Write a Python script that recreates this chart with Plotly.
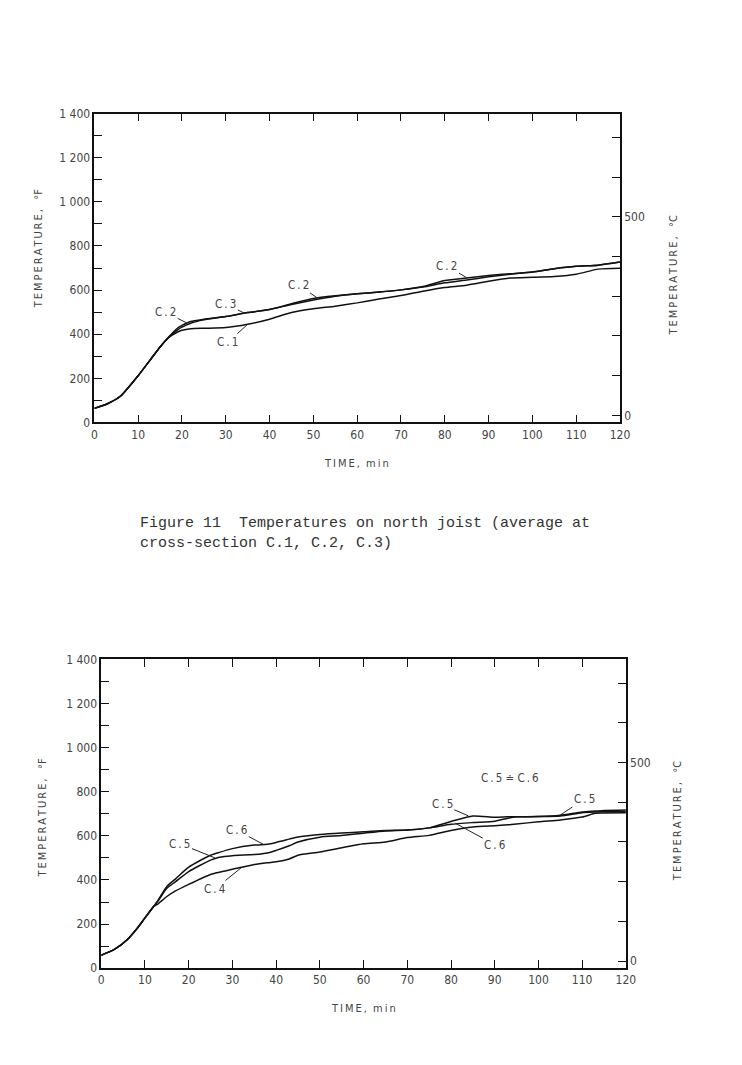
import plotly.graph_objects as go

# ---------------- data ----------------
t_top = [0, 3, 6, 10, 13, 15, 17, 19, 20, 22, 25, 30, 35, 40, 45, 50, 55, 60,
         65, 70, 75, 80, 85, 90, 95, 100, 105, 110, 115, 120]
c1 = [64, 85, 120, 212, 290, 342, 385, 410, 418, 425, 427, 430, 445, 468, 498,
      515, 527, 542, 560, 575, 595, 612, 622, 640, 655, 658, 662, 672, 695, 699]
c2 = [64, 85, 120, 212, 290, 342, 388, 428, 440, 458, 468, 480, 498, 512, 538,
      562, 574, 583, 591, 601, 616, 643, 655, 666, 674, 682, 697, 708, 713, 727]
c3 = [64, 85, 120, 212, 290, 342, 386, 420, 432, 450, 465, 480, 498, 512, 535,
      555, 572, 583, 591, 601, 614, 633, 646, 660, 672, 682, 697, 708, 713, 727]

t_bot = [0, 3, 6, 8, 10, 12, 13, 15, 17, 20, 25, 27, 30, 35, 38, 40, 43, 45,
         50, 55, 60, 65, 70, 75, 80, 85, 90, 93, 95, 100, 105, 110, 113, 115, 120]
c4 = [59, 85, 130, 175, 228, 280, 292, 325, 350, 380, 425, 435, 448, 470, 478,
      482, 495, 512, 527, 546, 564, 572, 592, 602, 624, 640, 646, 650, 653, 664,
      672, 685, 702, 703, 705]
c5 = [59, 85, 130, 175, 228, 280, 305, 362, 392, 438, 490, 503, 510, 515, 522,
      534, 555, 572, 594, 601, 612, 622, 626, 636, 665, 690, 684, 686, 686, 687,
      693, 708, 712, 715, 717]
c6 = [59, 85, 130, 175, 228, 280, 308, 370, 405, 458, 512, 525, 542, 558, 562,
      570, 585, 595, 606, 613, 618, 624, 626, 636, 652, 660, 666, 680, 686, 687,
      690, 705, 708, 709, 710]

x_ticks = [0, 10, 20, 30, 40, 50, 60, 70, 80, 90, 100, 110, 120]
f_ticks = list(range(0, 1401, 100))
f_labels = {0: "0", 200: "200", 400: "400", 600: "600", 800: "800",
            1000: "1 000", 1200: "1 200", 1400: "1 400"}
c_ticks = list(range(0, 701, 100))
c_labels = {0: "0", 500: "500"}

top_notes = [("C.2", 16.3, 499, 21, 452), ("C.3", 30, 536, 34, 498),
             ("C.1", 30.5, 364, 35, 445), ("C.2", 46.5, 625, 51, 563),
             ("C.2", 80.5, 710, 85, 656)]
bot_notes = [("C.5", 78, 742, 84, 690), ("C.6", 90, 560, 81, 657),
             ("C.5", 110.5, 767, 105, 694), ("C.6", 31, 626, 37, 562),
             ("C.5", 18, 564, 26, 500), ("C.4", 26, 359, 32, 455)]
caption = "Figure 11  Temperatures on north joist (average at<br>cross-section C.1, C.2, C.3)"

# ---------------- figure ----------------
W, H = 742, 1065
FONT = "DejaVu Sans Condensed, Liberation Sans Narrow, sans-serif"
fig = go.Figure()

line = dict(color="#111", width=1.5)
for xs, ys, xa, ya in [(t_top, c1, "x", "y"), (t_top, c2, "x", "y"), (t_top, c3, "x", "y"),
                       (t_bot, c4, "x2", "y3"), (t_bot, c5, "x2", "y3"), (t_bot, c6, "x2", "y3")]:
    fig.add_trace(go.Scatter(x=xs, y=ys, mode="lines", line=dict(line, shape="spline", smoothing=0.6),
                             xaxis=xa, yaxis=ya, showlegend=False, hoverinfo="skip"))

def px_x(p):
    return p / W

def px_y(p):
    return 1 - p / H

tickfont = dict(family=FONT, size=12, color="#444")
xcommon = dict(range=[0, 120], tickvals=x_ticks, ticks="inside", ticklen=8, tickwidth=1.3,
               tickcolor="#111", showline=True, linecolor="#111", linewidth=1.6,
               mirror="ticks", showgrid=False, zeroline=False, tickfont=tickfont)
fcommon = dict(range=[0, 1400], tickvals=f_ticks,
               ticktext=[f_labels.get(v, "") for v in f_ticks],
               ticks="inside", ticklen=8, tickwidth=1.3, tickcolor="#111",
               showline=True, linecolor="#111", linewidth=1.6, showgrid=False,
               zeroline=False, tickfont=tickfont)
ccommon = dict(range=[(0 - 32) / 1.8, (1400 - 32) / 1.8], tickvals=c_ticks,
               ticktext=[c_labels.get(v, "") for v in c_ticks], side="right",
               ticks="inside", ticklen=8, tickwidth=1.3, tickcolor="#111",
               showline=True, linecolor="#111", linewidth=1.6, showgrid=False,
               zeroline=False, tickfont=tickfont)

fig.update_layout(
    width=W, height=H, margin=dict(l=0, r=0, t=0, b=0),
    paper_bgcolor="white", plot_bgcolor="white",
    xaxis=dict(xcommon, domain=[px_x(93), px_x(628)], anchor="y"),
    yaxis=dict(fcommon, domain=[px_y(421), px_y(108)], anchor="x"),
    yaxis2=dict(ccommon, overlaying="y", anchor="x"),
    xaxis2=dict(xcommon, domain=[px_x(100), px_x(634)], anchor="y3"),
    yaxis3=dict(fcommon, domain=[px_y(974), px_y(661)], anchor="x2"),
    yaxis4=dict(ccommon, overlaying="y3", anchor="x2"),
)
# invisible traces to activate the °C axes
fig.add_trace(go.Scatter(x=[0], y=[0], xaxis="x", yaxis="y2", mode="markers",
                         marker=dict(opacity=0), showlegend=False, hoverinfo="skip"))
fig.add_trace(go.Scatter(x=[0], y=[0], xaxis="x2", yaxis="y4", mode="markers",
                         marker=dict(opacity=0), showlegend=False, hoverinfo="skip"))

sp = "\u2009"
afont = dict(family=FONT, size=11.5, color="#444")
for txt, tx, ty, hx, hy in top_notes:
    fig.add_annotation(x=hx, y=hy, ax=tx, ay=ty, xref="x", yref="y", axref="x", ayref="y",
                       text=sp.join(txt), showarrow=True, arrowhead=0, arrowwidth=1,
                       arrowcolor="#222", standoff=0, font=afont)
for txt, tx, ty, hx, hy in bot_notes:
    fig.add_annotation(x=hx, y=hy, ax=tx, ay=ty, xref="x2", yref="y3", axref="x2", ayref="y3",
                       text=sp.join(txt), showarrow=True, arrowhead=0, arrowwidth=1,
                       arrowcolor="#222", standoff=0, font=afont)
fig.add_annotation(x=93.5, y=861, xref="x2", yref="y3",
                   text=sp.join("C.5") + " ≐ " + sp.join("C.6"), showarrow=False, font=afont)

tfont = dict(family=FONT, size=11, color="#444")
time_t = sp.join("TIME,") + "  " + sp.join("min")
tf_t = sp.join("TEMPERATURE,") + "   °F"
tc_t = sp.join("TEMPERATURE,") + "   °C"
# axis titles as annotations
for cx, cy in [(360, 463), (367, 1015)]:
    fig.add_annotation(x=px_x(cx), y=px_y(cy), xref="paper", yref="paper", text=time_t,
                       xanchor="center", yanchor="middle", showarrow=False, font=tfont)
for cx, cy in [(36, 245), (40, 822)]:
    fig.add_annotation(x=px_x(cx), y=px_y(cy), xref="paper", yref="paper", text=tf_t,
                       xanchor="center", yanchor="middle", textangle=-90, showarrow=False,
                       font=tfont)
for cx, cy in [(682, 272), (686, 825)]:
    fig.add_annotation(x=px_x(cx), y=px_y(cy), xref="paper", yref="paper", text=tc_t,
                       xanchor="center", yanchor="middle", textangle=-90, showarrow=False,
                       font=tfont)

fig.add_annotation(x=px_x(137), y=px_y(513), xref="paper", yref="paper", xanchor="left",
                   yanchor="top", align="left", text=caption, showarrow=False,
                   font=dict(family="Liberation Mono, DejaVu Sans Mono, monospace", size=15,
                             color="#333"))

fig.write_html("out.html")
